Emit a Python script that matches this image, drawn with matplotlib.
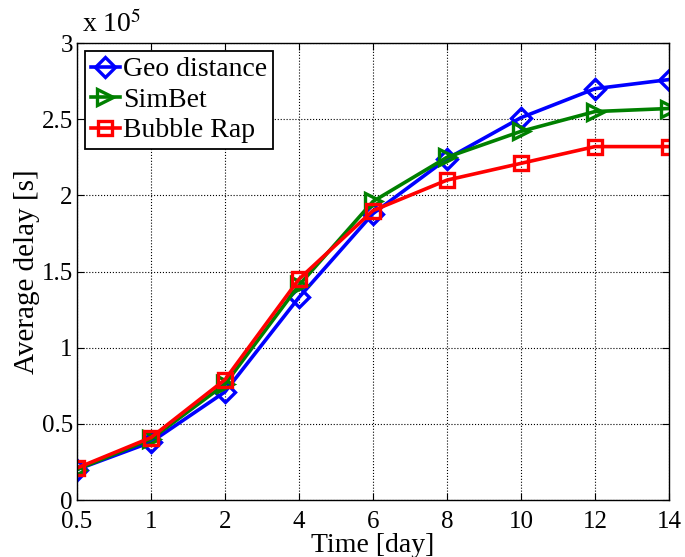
import numpy as np
import matplotlib.pyplot as plt

plt.rcParams['font.family'] = ['Liberation Serif', 'DejaVu Serif']
plt.rcParams['mathtext.fontset'] = 'stix'
plt.rcParams.update({'font.size': 18})

# x axis is categorical (evenly spaced days)
days = ['0.5', '1', '2', '4', '6', '8', '10', '12', '14']
# average delay in units of 1e5 s
geo = [0.20, 0.38, 0.71, 1.33, 1.88, 2.24, 2.51, 2.70, 2.76]
simbet = [0.20, 0.40, 0.76, 1.41, 1.96, 2.25, 2.42, 2.55, 2.57]
bubble = [0.21, 0.41, 0.79, 1.45, 1.90, 2.10, 2.21, 2.32, 2.32]

fig = plt.figure(figsize=(6.85, 5.57), dpi=100)
ax = fig.add_axes([0.1124, 0.1023, 0.8642, 0.8205])

x = np.arange(len(days))
style = dict(linewidth=2.6, markerfacecolor='none', markeredgewidth=2.4)
ax.plot(x, geo, color='#0000ff', marker='D', markersize=10, label='Geo distance', **style)
ax.plot(x, simbet, color='#008000', marker='>', markersize=11, label='SimBet', **style)
ax.plot(x, bubble, color='#ff0000', marker='s', markersize=10, label='Bubble Rap', **style)

ax.set_xlim(0, len(days) - 1)
ax.set_xticks(x)
ax.set_xticklabels(days)
ax.set_ylim(0, 3)
ax.set_yticks([0, 0.5, 1, 1.5, 2, 2.5, 3])
ax.set_yticklabels(['0', '0.5', '1', '1.5', '2', '2.5', '3'])
ax.tick_params(direction='in', top=True, right=True, labelsize=18, length=5)
ax.tick_params(axis='x', pad=8)
ax.tick_params(axis='y', pad=3)
ax.grid(True, linestyle=':', color='black', linewidth=0.8)
for s in ax.spines.values():
    s.set_linewidth(1.0)

ax.set_xlabel('Time [day]', fontsize=20, labelpad=0)
ax.set_ylabel('Average delay [s]', fontsize=21, labelpad=1)
ax.text(0.008, 1.01, r'x 10$^5$', transform=ax.transAxes, fontsize=20, ha='left', va='bottom')

leg = ax.legend(loc='upper left', fontsize=20, fancybox=False, edgecolor='black',
                handlelength=1.05, handletextpad=0.1, labelspacing=0.18, borderpad=0.2,
                borderaxespad=0.3, framealpha=1)
leg.get_frame().set_linewidth(1.3)

plt.savefig('out.png', dpi=100)
